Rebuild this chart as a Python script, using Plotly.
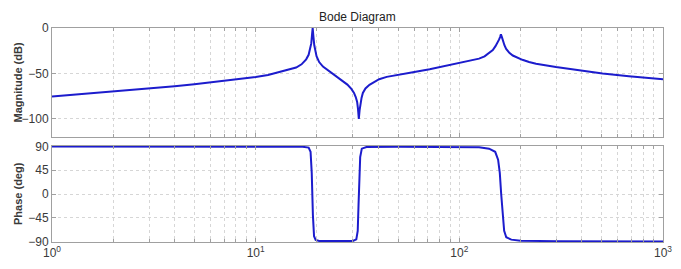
import plotly.graph_objects as go

# ---- data ----
mag_freq = [1, 1.5, 2, 3, 4, 5, 6, 7, 8, 9, 10, 11.5, 12.6, 14, 15.8, 16.8, 17.7, 18.2,
            18.5, 18.75, 18.9, 19.05, 19.2, 19.4, 19.9, 20.5, 21.4, 22.6, 23.9, 25.3,
            26.8, 28.2, 29.5, 30.4, 31, 31.5, 31.8, 32.1, 32.4, 32.6, 33.1, 33.6,
            34.6, 36.2, 38.2, 40.4, 44, 48.8, 59.2, 71.5, 86.5, 100, 112, 125, 133,
            140, 146, 150.5, 154, 156.6, 158.5, 160, 161.8, 163.5, 166.5, 169.8, 176,
            183, 193, 204, 220, 238, 298, 386, 505, 680, 1000]
mag_db = [-75.5, -72.4, -69.6, -66.3, -64.1, -62.0, -60.0, -58.3, -56.6, -55.3, -54.0,
          -51.8, -49.6, -46.8, -43.5, -40.0, -34.5, -29.5,
          -24.0, -17.0, -8.0, 0.0, -9.0, -19.0, -31.0, -37.5, -42.5, -46.5, -50.5, -54.0,
          -58.0, -62.3, -67.0, -71.5, -76.0, -81.5, -89.0, -100.0, -90.0, -84.0, -77.0, -71.5,
          -66.5, -62.5, -59.2, -56.4, -53.8, -51.8, -48.6, -45.3, -41.6, -38.5, -36.3, -33.7, -31.2,
          -27.6, -24.3, -20.0, -16.5, -12.8, -10.0, -7.0, -10.0, -14.0, -19.0, -23.0, -27.3,
          -30.3, -33.0, -35.0, -37.5, -39.4, -43.0, -46.6, -50.0, -53.0, -56.5]

phase_freq = [1, 10, 17, 18.2, 18.6, 18.85, 18.95, 19.1, 19.35, 19.7, 20.5, 25, 30,
              31.2, 31.7, 32.0, 32.2, 32.6, 33.2, 35, 50, 100, 125, 140, 150, 155, 158,
              160.5, 163, 166, 170, 180, 200, 300, 1000]
phase_deg = [90, 90, 89.5, 88, 80, 40, 0, -40, -80, -87, -89, -89.5, -89,
             -86, -70, -20, 20, 70, 86, 89, 89.5, 89, 88.5, 86, 80, 65, 40,
             0, -40, -70, -82, -86.5, -88.5, -89.5, -90]

x_tick_vals = [1, 10, 100, 1000]
x_tick_text = ["10<sup>0</sup>", "10<sup>1</sup>", "10<sup>2</sup>", "10<sup>3</sup>"]
mag_tick_vals = [0, -50, -100]
phase_tick_vals = [90, 45, 0, -45, -90]

title_text = "Bode Diagram"
mag_label = "Magnitude (dB)"
phase_label = "Phase (deg)"

# ---- styling ----
LINE = "rgb(28,28,205)"
FRAME = "#a0a0a0"
GRID = "#d6d6d6"
TXT = "#3a3a3a"
FONT = "Liberation Sans, Arial, sans-serif"

minor_vals = [m * d for d in (1, 10, 100) for m in range(2, 10)]

fig = go.Figure()
fig.add_trace(go.Scatter(x=mag_freq, y=mag_db, mode="lines",
                         line=dict(color=LINE, width=2), xaxis="x", yaxis="y",
                         showlegend=False, hoverinfo="skip"))
fig.add_trace(go.Scatter(x=phase_freq, y=phase_deg, mode="lines",
                         line=dict(color=LINE, width=2), xaxis="x2", yaxis="y2",
                         showlegend=False, hoverinfo="skip"))

def xax(show_labels):
    d = dict(type="log", range=[0, 3], showline=True, linecolor=FRAME, linewidth=1,
             mirror="allticks", ticks="inside", ticklen=4, tickcolor=FRAME,
             tickmode="array", tickvals=x_tick_vals,
             showticklabels=show_labels,
             showgrid=True, gridcolor=GRID, griddash="dot", gridwidth=1,
             minor=dict(tickmode="array", tickvals=minor_vals, ticks="inside",
                        ticklen=3, tickcolor=FRAME, showgrid=True,
                        gridcolor=GRID, griddash="dot", gridwidth=1),
             tickfont=dict(family=FONT, size=12, color=TXT),
             zeroline=False, fixedrange=True)
    if show_labels:
        d["ticktext"] = x_tick_text
    return d

def yax(rng, vals, dom):
    return dict(range=rng, domain=dom, showline=True, linecolor=FRAME, linewidth=1,
                mirror="allticks", ticks="inside", ticklen=4, tickcolor=FRAME,
                tickmode="array", tickvals=vals,
                showgrid=True, gridcolor=GRID, griddash="dot", gridwidth=1,
                tickfont=dict(family=FONT, size=12, color=TXT),
                zeroline=False, fixedrange=True, automargin=False)

# page has an 8px body margin; figure placed at (8, 8)
plot_h = 214.0
plot_w = 611.0
fig.update_layout(
    width=665, height=253,
    margin=dict(l=44, r=10, t=20, b=19),
    paper_bgcolor="white", plot_bgcolor="white",
    xaxis=dict(xax(False), anchor="y", automargin=False),
    yaxis=dict(yax([-120, 0], mag_tick_vals, [(242 - 137) / plot_h, 1.0]), anchor="x"),
    xaxis2=dict(xax(True), anchor="y2", automargin=False),
    yaxis2=dict(yax([-91, 91], phase_tick_vals, [0.0, (242 - 146) / plot_h]), anchor="x2"),
    font=dict(family=FONT, color=TXT),
    annotations=[
        dict(text=title_text, xref="paper", yref="paper", x=0.5, y=(242 - 17) / plot_h,
             xanchor="center", yanchor="middle", showarrow=False,
             font=dict(family=FONT, size=12, color="#222")),
        dict(text="<b>" + mag_label + "</b>", xref="paper", yref="paper",
             x=(18 - 52) / plot_w, y=(242 - 82.5) / plot_h, textangle=-90,
             xanchor="center", yanchor="middle", showarrow=False,
             font=dict(family=FONT, size=11, color=TXT)),
        dict(text="<b>" + phase_label + "</b>", xref="paper", yref="paper",
             x=(18 - 52) / plot_w, y=(242 - 194) / plot_h, textangle=-90,
             xanchor="center", yanchor="middle", showarrow=False,
             font=dict(family=FONT, size=11, color=TXT)),
    ],
)

fig.write_html("out.html")
